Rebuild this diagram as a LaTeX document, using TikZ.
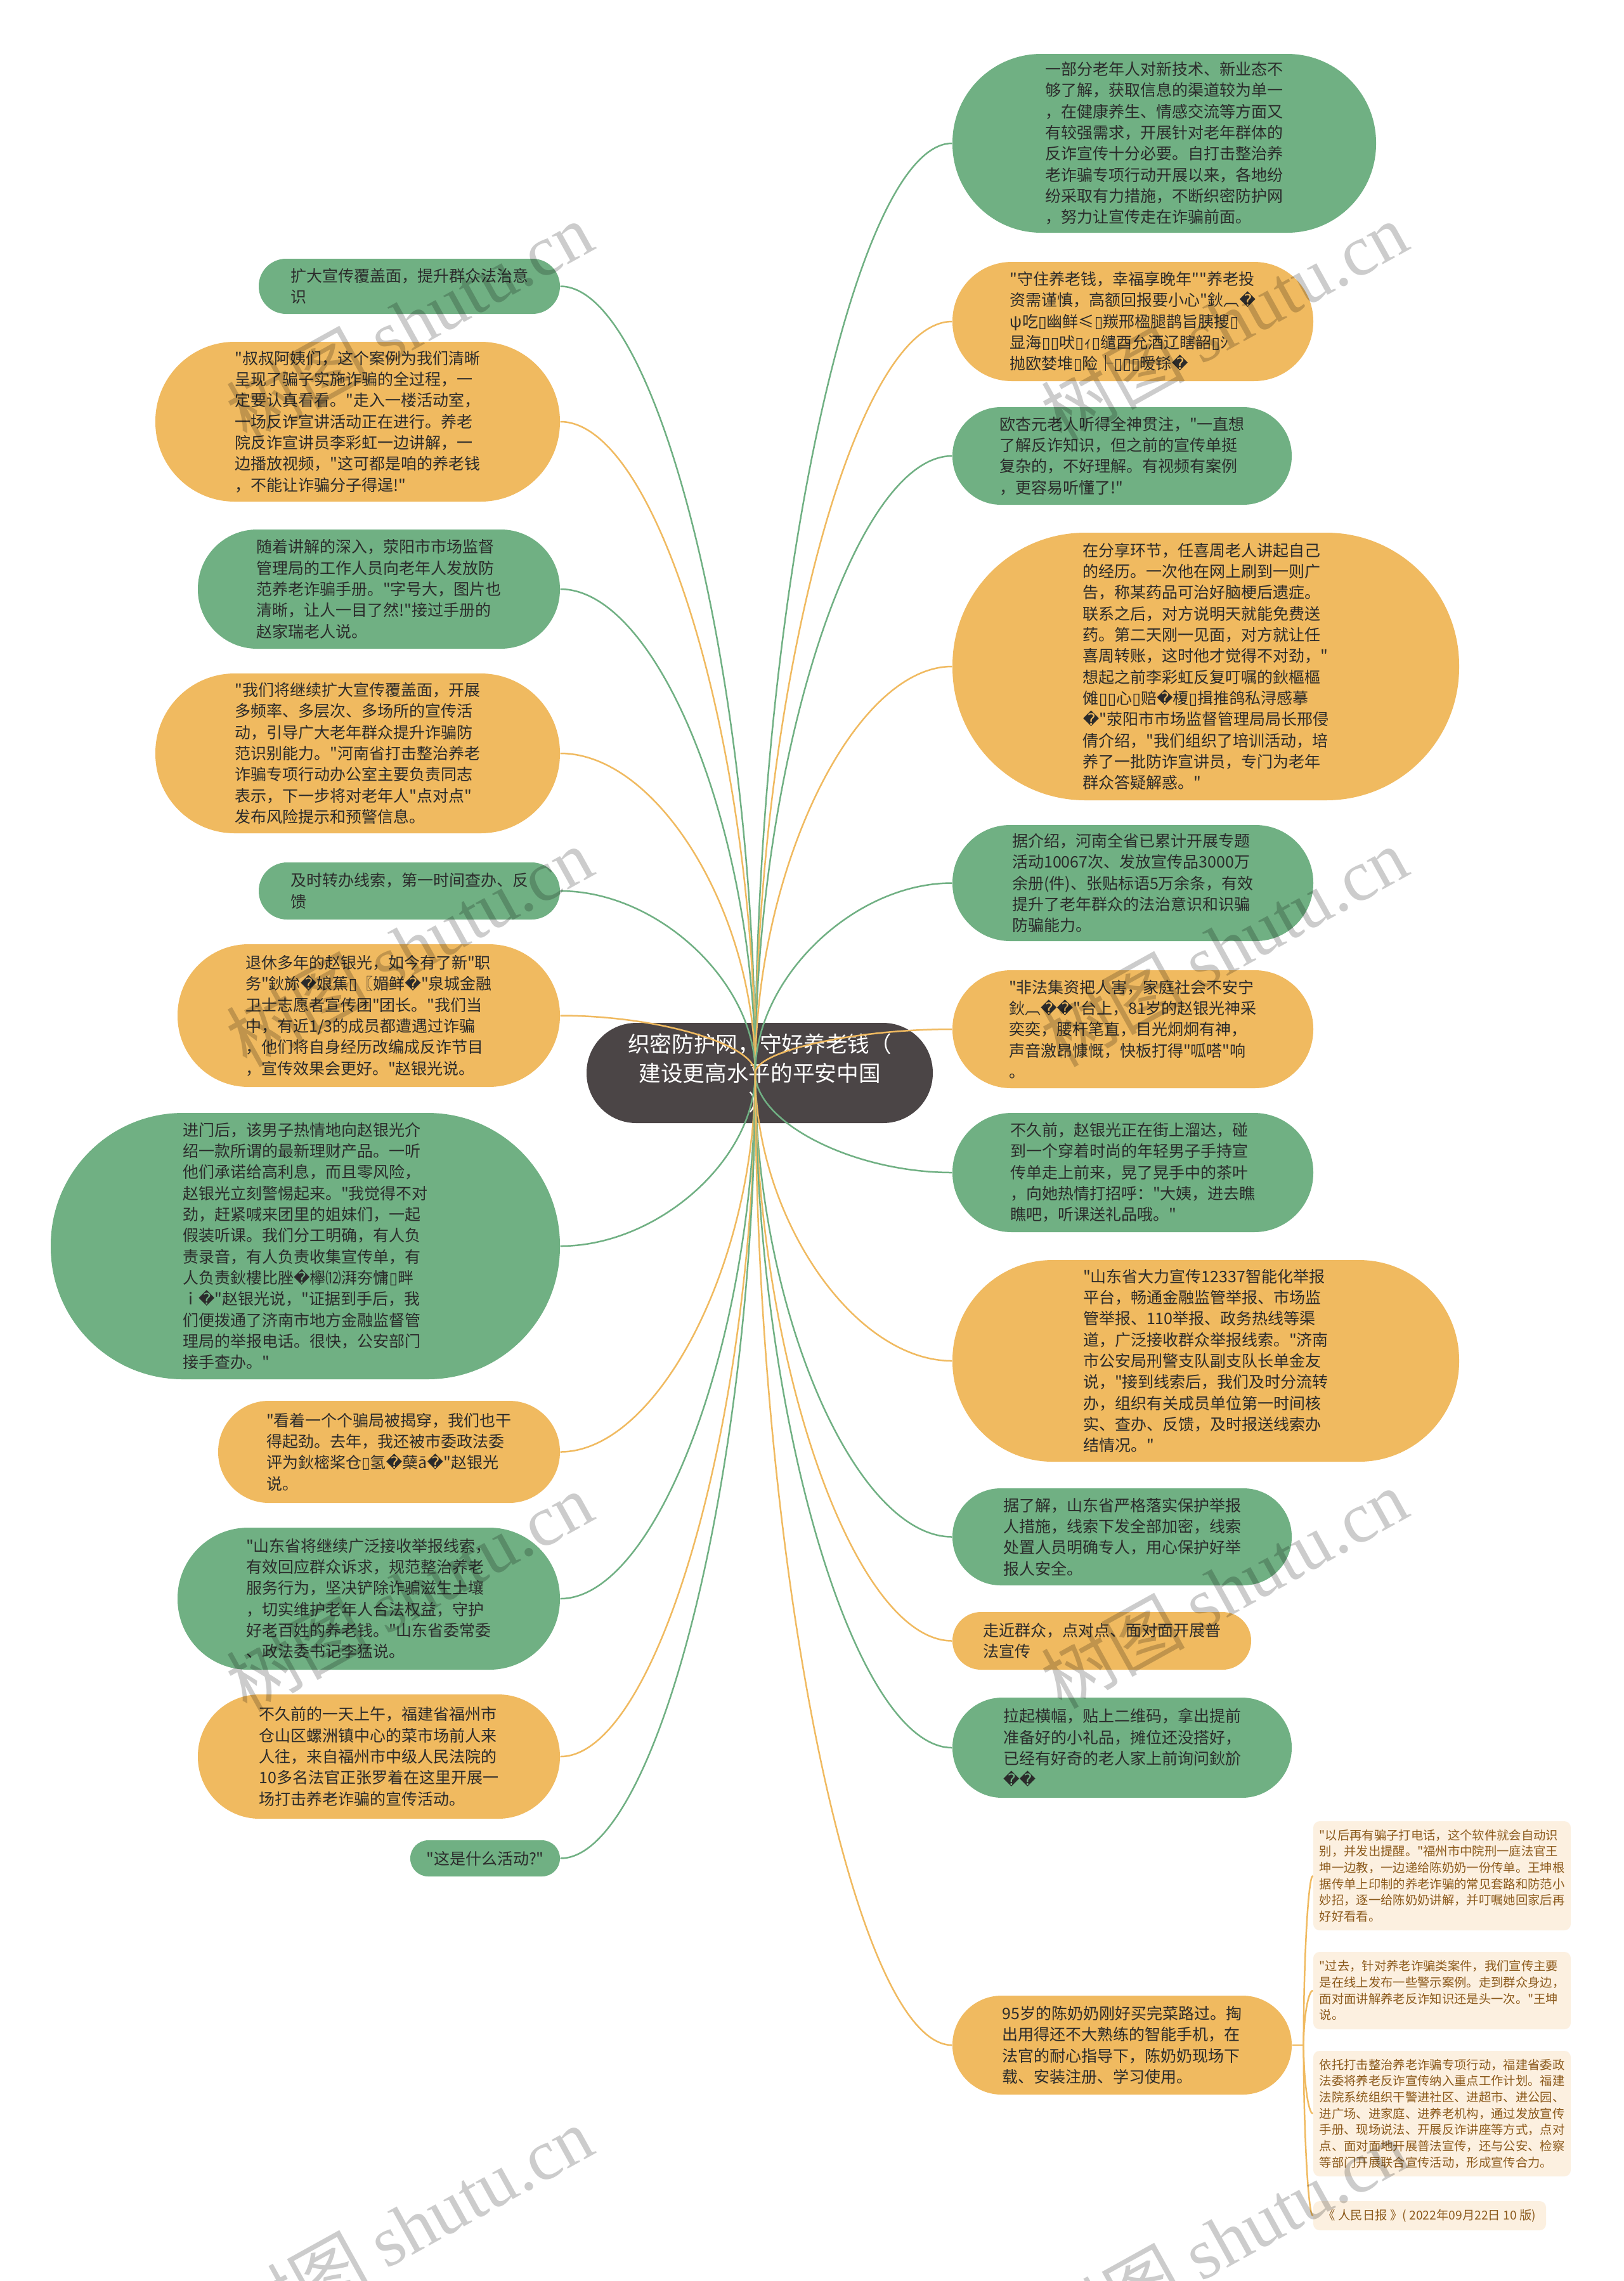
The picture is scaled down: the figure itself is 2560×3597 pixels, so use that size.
\documentclass[tikz,border=0pt]{standalone}
\usepackage{fontspec}
\newfontfamily\cjk{Noto Sans CJK SC}
\newfontfamily\djv{DejaVu Sans}
\newfontfamily\wmser{Liberation Serif}
\usetikzlibrary{calc}
\definecolor{gn}{HTML}{70B083}
\definecolor{og}{HTML}{F0BA60}
\definecolor{dk}{HTML}{4B4546}
\definecolor{txt}{HTML}{2B2B2B}
\definecolor{ntf}{HTML}{FCF0E0}
\definecolor{ntt}{HTML}{8C5A1C}
\newcommand{\repl}{{\djv\char"FFFD}}
\newcommand{\tofu}{{\djv\char"25AF}}
\newcommand{\lnk}[3]{\draw[conn,#3] (#1) .. controls ($(#1)!0.5!(#1 |- #2)$) and ($(#2)!0.5!(#1 |- #2)$) .. (#2);}
\tikzset{
  base/.style={inner sep=0pt, align=left, text=txt, font=\cjk\fontsize{7.5pt}{10pt}\selectfont},
  gbox/.style 2 args={base, fill=gn, minimum width=#1*0.3pt, minimum height=#2*0.3pt, rounded corners=#2*0.149pt},
  obox/.style 2 args={base, fill=og, minimum width=#1*0.3pt, minimum height=#2*0.3pt, rounded corners=#2*0.149pt},
  cbox/.style={inner sep=0pt, align=center, fill=dk, text=white, font=\cjk\fontsize{10.4pt}{13.8pt}\selectfont, minimum width=546*0.3pt, minimum height=158*0.3pt, rounded corners=158*0.149pt},
  nbox/.style 2 args={inner sep=0pt, align=left, fill=ntf, text=ntt, font=\cjk\fontsize{5.8pt}{7.7pt}\selectfont, minimum width=#1*0.3pt, minimum height=#2*0.3pt, rounded corners=3pt},
  conn/.style={line width=0.75pt},
  wm/.style={text=black, text opacity=0.2, rotate=29, font=\cjk\fontsize{34pt}{34pt}\selectfont}
}
\begin{document}
\begin{tikzpicture}[x=0.3pt,y=-0.3pt]
\fill[white] (0,0) rectangle (2560,3597);
\useasboundingbox (0,0) rectangle (2560,3597);

% centre
\node[cbox] (C) at (1198,1692) {织密防护网，守好养老钱（\\建设更高水平的平安中国\\）};

% left
\node[gbox={475}{87}] (L1) at (645.5,451.5) {扩大宣传覆盖面，提升群众法治意\\识};
\node[obox={638}{252}] (L2) at (564,665) {"叔叔阿姨们，这个案例为我们清晰\\呈现了骗子实施诈骗的全过程，一\\定要认真看看。"走入一楼活动室，\\一场反诈宣讲活动正在进行。养老\\院反诈宣讲员李彩虹一边讲解，一\\边播放视频，"这可都是咱的养老钱\\，不能让诈骗分子得逞!"};
\node[gbox={571}{188}] (L3) at (597.5,929) {随着讲解的深入，荥阳市市场监督\\管理局的工作人员向老年人发放防\\范养老诈骗手册。"字号大，图片也\\清晰，让人一目了然!"接过手册的\\赵家瑞老人说。};
\node[obox={638}{252}] (L4) at (564,1188) {"我们将继续扩大宣传覆盖面，开展\\多频率、多层次、多场所的宣传活\\动，引导广大老年群众提升诈骗防\\范识别能力。"河南省打击整治养老\\诈骗专项行动办公室主要负责同志\\表示，下一步将对老年人"点对点"\\发布风险提示和预警信息。};
\node[gbox={475}{90}] (L5) at (645.5,1405) {及时转办线索，第一时间查办、反\\馈};
\node[obox={603}{225}] (L6) at (581.5,1601.5) {退休多年的赵银光，如今有了新"职\\务"鈥旀\repl 娘蕉\tofu〖媚鲜\repl"泉城金融\\卫士志愿者宣传团"团长。"我们当\\中，有近1/3的成员都遭遇过诈骗\\，他们将自身经历改编成反诈节目\\，宣传效果会更好。"赵银光说。};
\node[gbox={803}{420}] (L7) at (481.5,1965) {进门后，该男子热情地向赵银光介\\绍一款所谓的最新理财产品。一听\\他们承诺给高利息，而且零风险，\\赵银光立刻警惕起来。"我觉得不对\\劲，赶紧喊来团里的姐妹们，一起\\假装听课。我们分工明确，有人负\\责录音，有人负责收集宣传单，有\\人负责鈥樓比脞\repl 欅⑿湃夯慵\tofu 畔\\ｉ\repl"赵银光说，"证据到手后，我\\们便拨通了济南市地方金融监督管\\理局的举报电话。很快，公安部门\\接手查办。"};
\node[obox={539}{161}] (L8) at (613.5,2289.5) {"看着一个个骗局被揭穿，我们也干\\得起劲。去年，我还被市委政法委\\评为鈥樒桨仓\tofu 氢\repl 蘖ā\repl"赵银光\\说。};
\node[gbox={603}{224}] (L9) at (581.5,2521) {"山东省将继续广泛接收举报线索，\\有效回应群众诉求，规范整治养老\\服务行为，坚决铲除诈骗滋生土壤\\，切实维护老年人合法权益，守护\\好老百姓的养老钱。"山东省委常委\\、政法委书记李猛说。};
\node[obox={571}{196}] (L10) at (597.5,2770) {不久前的一天上午，福建省福州市\\仓山区螺洲镇中心的菜市场前人来\\人往，来自福州市中级人民法院的\\10多名法官正张罗着在这里开展一\\场打击养老诈骗的宣传活动。};
\node[gbox={236}{57}] (L11) at (765,2930.5) {"这是什么活动?"};

% right
\node[gbox={668}{282}] (R1) at (1836,226) {一部分老年人对新技术、新业态不\\够了解，获取信息的渠道较为单一\\，在健康养生、情感交流等方面又\\有较强需求，开展针对老年群体的\\反诈宣传十分必要。自打击整治养\\老诈骗专项行动开展以来，各地纷\\纷采取有力措施，不断织密防护网\\，努力让宣传走在诈骗前面。};
\node[obox={569}{188}] (R2) at (1786.5,507) {"守住养老钱，幸福享晚年""养老投\\资需谨慎，高额回报要小心"鈥︹\repl\\ψ吃\tofu 幽鲜≤\tofu 羰邢楹腿鹊旨胰搜\tofu\\显海\tofu\tofu 吠\tofu ｨ\tofu 缱酉允酒辽瞎韶\tofu ｼ\\抛欧婪堆\tofu 险├\tofu\tofu\tofu 暧铩\repl};
\node[gbox={535}{154}] (R3) at (1769.5,719) {欧杏元老人听得全神贯注，"一直想\\了解反诈知识，但之前的宣传单挺\\复杂的，不好理解。有视频有案例\\，更容易听懂了!"};
\node[obox={799}{422}] (R4) at (1901.5,1051) {在分享环节，任喜周老人讲起自己\\的经历。一次他在网上刷到一则广\\告，称某药品可治好脑梗后遗症。\\联系之后，对方说明天就能免费送\\药。第二天刚一见面，对方就让任\\喜周转账，这时他才觉得不对劲，"\\想起之前李彩虹反复叮嘱的鈥樞樞\\傩\tofu\tofu 心\tofu 赔\repl 榎\tofu 揖推鸽私浔感摹\\\repl"荥阳市市场监督管理局局长邢侵\\倩介绍，"我们组织了培训活动，培\\养了一批防诈宣讲员，专门为老年\\群众答疑解惑。"};
\node[gbox={569}{183}] (R5) at (1786.5,1392.5) {据介绍，河南全省已累计开展专题\\活动10067次、发放宣传品3000万\\余册(件)、张贴标语5万余条，有效\\提升了老年群众的法治意识和识骗\\防骗能力。};
\node[obox={569}{186}] (R6) at (1786.5,1623) {"非法集资把人害，家庭社会不安宁\\鈥︹\repl\repl"台上，81岁的赵银光神采\\奕奕，腰杆笔直，目光炯炯有神，\\声音激昂慷慨，快板打得"呱嗒"响\\。};
\node[gbox={569}{188}] (R7) at (1786.5,1849) {不久前，赵银光正在街上溜达，碰\\到一个穿着时尚的年轻男子手持宣\\传单走上前来，晃了晃手中的茶叶\\，向她热情打招呼："大姨，进去瞧\\瞧吧，听课送礼品哦。"};
\node[obox={799}{318}] (R8) at (1901.5,2146) {"山东省大力宣传12337智能化举报\\平台，畅通金融监管举报、市场监\\管举报、110举报、政务热线等渠\\道，广泛接收群众举报线索。"济南\\市公安局刑警支队副支队长单金友\\说，"接到线索后，我们及时分流转\\办，组织有关成员单位第一时间核\\实、查办、反馈，及时报送线索办\\结情况。"};
\node[gbox={535}{153}] (R9) at (1769.5,2423.5) {据了解，山东省严格落实保护举报\\人措施，线索下发全部加密，线索\\处置人员明确专人，用心保护好举\\报人安全。};
\node[obox={471}{91}] (R10) at (1737.5,2587.5) {走近群众，点对点、面对面开展普\\法宣传};
\node[gbox={535}{158}] (R11) at (1769.5,2756) {拉起横幅，贴上二维码，拿出提前\\准备好的小礼品，摊位还没搭好，\\已经有好奇的老人家上前询问鈥斺\\\repl\repl};
\node[obox={535}{156}] (R12) at (1769.5,3225) {95岁的陈奶奶刚好买完菜路过。掏\\出用得还不大熟练的智能手机，在\\法官的耐心指导下，陈奶奶现场下\\载、安装注册、学习使用。};

% notes
\node[nbox={406}{172}] (N1) at (2274,2958) {"以后再有骗子打电话，这个软件就会自动识\\别，并发出提醒。"福州市中院刑一庭法官王\\坤一边教，一边递给陈奶奶一份传单。王坤根\\据传单上印制的养老诈骗的常见套路和防范小\\妙招，逐一给陈奶奶讲解，并叮嘱她回家后再\\好好看看。};
\node[nbox={406}{122}] (N2) at (2274,3139) {"过去，针对养老诈骗类案件，我们宣传主要\\是在线上发布一些警示案例。走到群众身边，\\面对面讲解养老反诈知识还是头一次。"王坤\\说。};
\node[nbox={406}{198}] (N3) at (2274,3333) {依托打击整治养老诈骗专项行动，福建省委政\\法委将养老反诈宣传纳入重点工作计划。福建\\法院系统组织干警进社区、进超市、进公园、\\进广场、进家庭、进养老机构，通过发放宣传\\手册、现场说法、开展反诈讲座等方式，点对\\点、面对面地开展普法宣传，还与公安、检察\\等部门开展联合宣传活动，形成宣传合力。};
\node[nbox={367}{46}] (N4) at (2254.5,3494) {《 人民日报 》( 2022年09月22日 10 版)};

% connectors
\coordinate (hub) at (1191,1692);
\lnk{hub}{L1.east}{gn}
\lnk{hub}{L2.east}{og}
\lnk{hub}{L3.east}{gn}
\lnk{hub}{L4.east}{og}
\lnk{hub}{L5.east}{gn}
\lnk{hub}{L6.east}{og}
\lnk{hub}{L7.east}{gn}
\lnk{hub}{L8.east}{og}
\lnk{hub}{L9.east}{gn}
\lnk{hub}{L10.east}{og}
\lnk{hub}{L11.east}{gn}
\lnk{hub}{R1.west}{gn}
\lnk{hub}{R2.west}{og}
\lnk{hub}{R3.west}{gn}
\lnk{hub}{R4.west}{og}
\lnk{hub}{R5.west}{gn}
\lnk{hub}{R6.west}{og}
\lnk{hub}{R7.west}{gn}
\lnk{hub}{R8.west}{og}
\lnk{hub}{R9.west}{gn}
\lnk{hub}{R10.west}{og}
\lnk{hub}{R11.west}{gn}
\lnk{hub}{R12.west}{og}
\coordinate (rb) at ([xshift=5.4pt]R12.east);
\draw[conn,og] (R12.east) -- (rb);
\lnk{rb}{N1.west}{og}
\lnk{rb}{N2.west}{og}
\lnk{rb}{N3.west}{og}
\lnk{rb}{N4.west}{og}

% watermarks
\node[wm] (w1) at (645,507) {树图 {\wmser shutu.cn}};
\node[wm] (w2) at (1930,507) {树图 {\wmser shutu.cn}};
\node[wm] (w3) at (645,1493) {树图 {\wmser shutu.cn}};
\node[wm] (w4) at (1930,1493) {树图 {\wmser shutu.cn}};
\node[wm] (w5) at (645,2510) {树图 {\wmser shutu.cn}};
\node[wm] (w6) at (1930,2505) {树图 {\wmser shutu.cn}};
\node[wm] (w7) at (645,3510) {树图 {\wmser shutu.cn}};
\node[wm] (w8) at (1930,3530) {树图 {\wmser shutu.cn}};
\end{tikzpicture}
\end{document}
